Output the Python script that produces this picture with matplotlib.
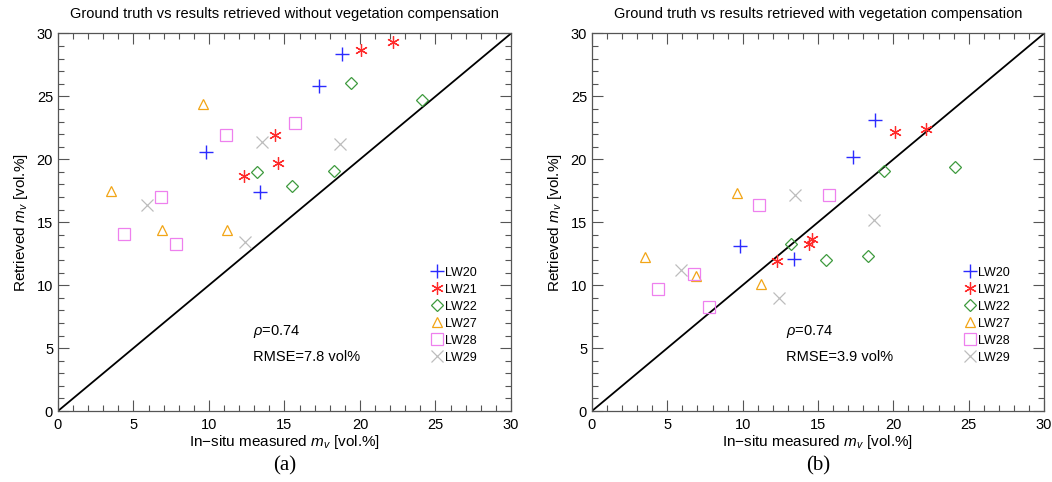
import matplotlib
matplotlib.use("Agg")
import matplotlib.pyplot as plt
from matplotlib.ticker import MultipleLocator

plt.rcParams["font.family"] = ["Liberation Sans", "DejaVu Sans"]
plt.rcParams["mathtext.fontset"] = "custom"
plt.rcParams["mathtext.it"] = "Liberation Sans:italic"
plt.rcParams["mathtext.rm"] = "Liberation Sans"

SITES = ["LW20", "LW21", "LW22", "LW27", "LW28", "LW29"]

# in-situ measured mv (same for both panels)
insitu = {
    "LW20": [9.8, 13.4, 17.3, 18.8],
    "LW21": [12.3, 14.4, 14.6, 20.1, 22.2],
    "LW22": [13.2, 15.5, 18.3, 19.4, 24.1],
    "LW27": [3.5, 6.9, 9.6, 11.2],
    "LW28": [4.4, 6.8, 7.8, 11.1, 15.7],
    "LW29": [5.9, 12.4, 13.5, 18.7],
}

# retrieved without vegetation compensation
retrieved_raw = {
    "LW20": [20.6, 17.4, 25.8, 28.4],
    "LW21": [18.7, 21.9, 19.7, 28.7, 29.3],
    "LW22": [19.0, 17.9, 19.1, 26.1, 24.7],
    "LW27": [17.5, 14.4, 24.4, 14.4],
    "LW28": [14.1, 17.0, 13.3, 21.9, 22.9],
    "LW29": [16.4, 13.4, 21.4, 21.2],
}

# retrieved with vegetation compensation
retrieved_comp = {
    "LW20": [13.1, 12.1, 20.2, 23.1],
    "LW21": [11.9, 13.3, 13.7, 22.2, 22.4],
    "LW22": [13.3, 12.0, 12.3, 19.1, 19.4],
    "LW27": [12.2, 10.7, 17.3, 10.1],
    "LW28": [9.7, 10.9, 8.3, 16.4, 17.2],
    "LW29": [11.2, 9.0, 17.2, 15.2],
}

STYLE = {
    "LW20": dict(marker="+", color="#2b2bff", ms=10, mew=1.0),
    "LW21": dict(marker=(6, 2, 0), color="#ff2a2a", ms=9, mew=0.9),
    "LW22": dict(marker="D", color="#3d9a3d", ms=6.5, mew=0.9),
    "LW27": dict(marker="^", color="#f2a516", ms=7, mew=0.9),
    "LW28": dict(marker="s", color="#ee80ee", ms=9, mew=0.9),
    "LW29": dict(marker="x", color="#bdbdbd", ms=9, mew=0.9),
}

titles = ["Ground truth vs results retrieved without vegetation compensation",
          "Ground truth vs results retrieved with vegetation compensation"]
stats = [("0.74", "7.8"), ("0.74", "3.9")]
panel_tags = ["(a)", "(b)"]

fig = plt.figure(figsize=(10.52, 4.82), dpi=100, facecolor="white")
axes = [fig.add_axes([0.0551, 0.1473, 0.4306, 0.7832]),
        fig.add_axes([0.5627, 0.1473, 0.4297, 0.7832])]

for ax, retrieved, title, (rho, rmse), tag in zip(
        axes, [retrieved_raw, retrieved_comp], titles, stats, panel_tags):
    ax.plot([0, 30], [0, 30], color="black", lw=1.3, zorder=1)
    for site in SITES:
        st = STYLE[site]
        ax.plot(insitu[site], retrieved[site], linestyle="none",
                marker=st["marker"], markersize=st["ms"], markeredgewidth=st["mew"],
                markerfacecolor="none", markeredgecolor=st["color"],
                label=site, zorder=3)
    ax.set_xlim(0, 30)
    ax.set_ylim(0, 30)
    ax.xaxis.set_major_locator(MultipleLocator(5))
    ax.yaxis.set_major_locator(MultipleLocator(5))
    ax.xaxis.set_minor_locator(MultipleLocator(1))
    ax.yaxis.set_minor_locator(MultipleLocator(1))
    ax.tick_params(which="both", direction="in", top=True, right=True,
                   color="#555555", width=0.8)
    ax.tick_params(which="major", length=8, labelsize=10.5)
    ax.tick_params(axis="x", which="major", pad=5)
    ax.tick_params(which="minor", length=4)
    for spine in ax.spines.values():
        spine.set_color("#555555")
        spine.set_linewidth(0.9)

    ax.set_title(title, fontsize=10.5, pad=11)
    ax.set_xlabel(r"In$-$situ measured $m_v$ [vol.%]", fontsize=11, labelpad=1)
    ax.set_ylabel(r"Retrieved $m_v$ [vol.%]", fontsize=11, labelpad=5)
    ax.text(12.9, 6.3, r"$\rho$=" + rho, fontsize=10.5, va="center")
    ax.text(12.9, 4.3, "RMSE=" + rmse + " vol%", fontsize=10.5, va="center")

    ax.legend(loc="lower right", bbox_to_anchor=(0.94, 0.105), frameon=False,
              fontsize=9, handlelength=0.9, handletextpad=0.15,
              labelspacing=0.4, borderaxespad=0.2)
    ax.text(0.5, -0.146, tag, transform=ax.transAxes, ha="center", va="center",
            fontsize=15, family=["Liberation Serif", "DejaVu Serif"])

fig.savefig("out.png", dpi=100, facecolor="white")
